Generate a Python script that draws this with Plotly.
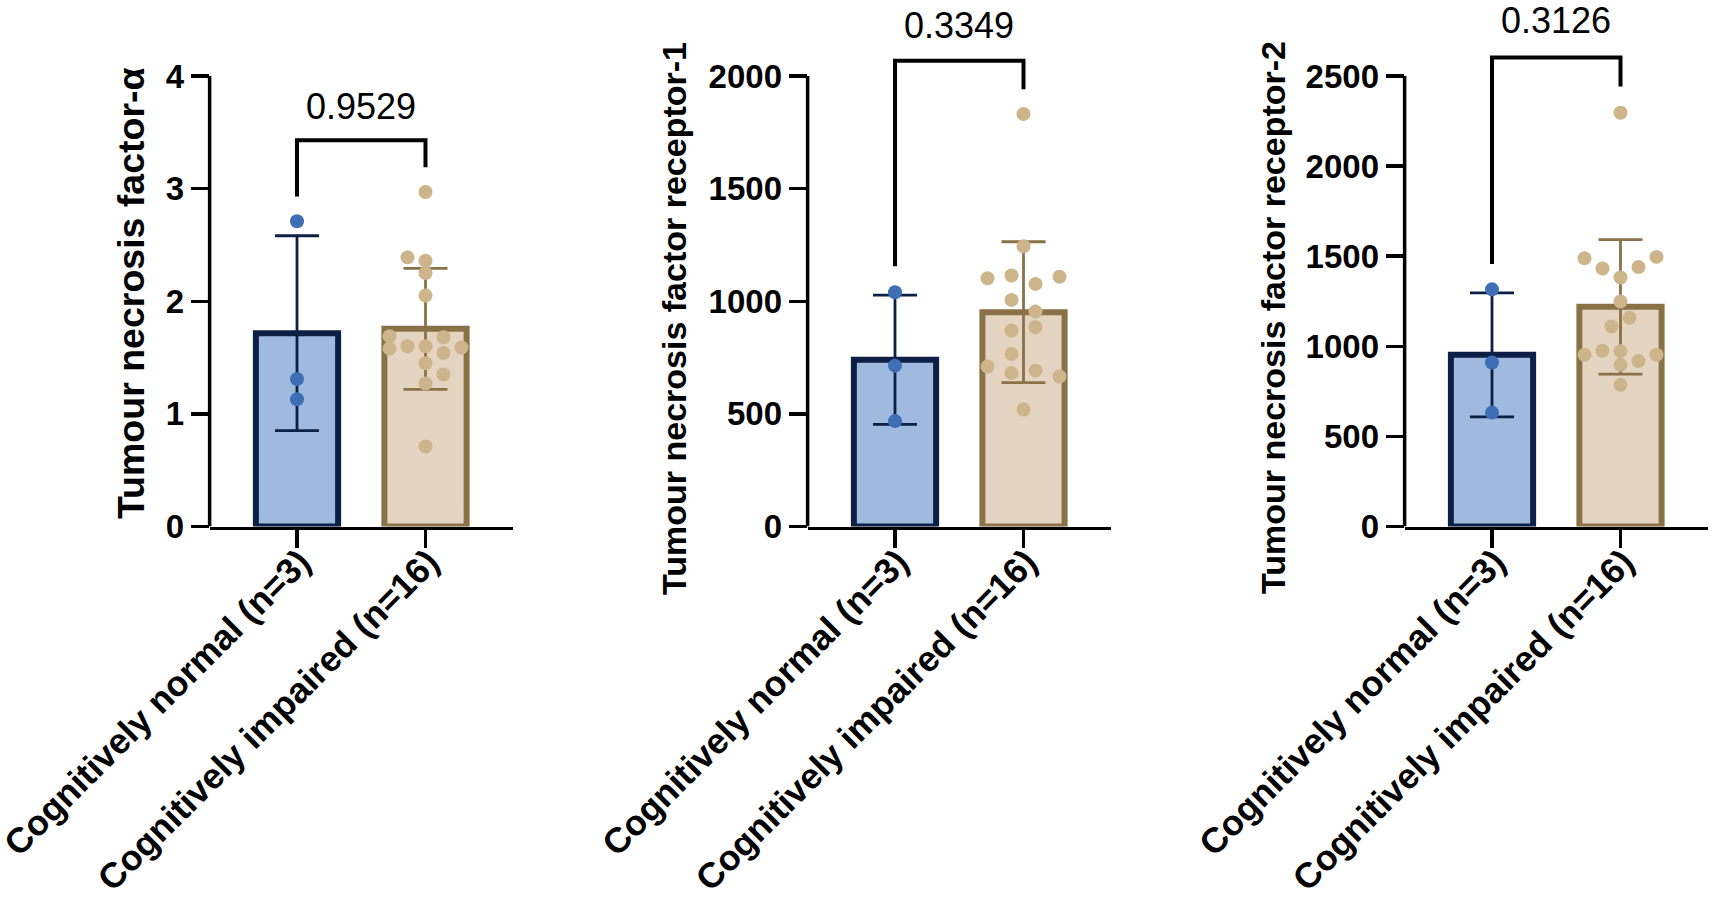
import numpy as np
import plotly.graph_objects as go

# ---------------- data ----------------
groups = ["Cognitively normal (n=3)", "Cognitively impaired (n=16)"]

tnfa_normal = [2.71, 1.31, 1.13]
tnfa_impaired = [2.97, 2.39, 2.36, 2.25, 2.05, 1.69, 1.68, 1.58, 1.60, 1.60,
                 1.54, 1.59, 1.45, 1.35, 1.27, 0.71]

tnfr1_normal = [1040, 714, 468]
tnfr1_impaired = [1831, 1244, 1102, 1114, 1077, 1109, 1006, 954, 885, 870,
                  766, 710, 681, 692, 666, 519]

tnfr2_normal = [1316, 910, 632]
tnfr2_impaired = [2296, 1488, 1496, 1432, 1440, 1382, 1249, 1158, 1110, 953,
                  975, 973, 953, 918, 897, 786]

p_values = ["0.9529", "0.3349", "0.3126"]
y_titles = ["Tumour necrosis factor-α",
            "Tumour necrosis factor receptor-1",
            "Tumour necrosis factor receptor-2"]
y_tick_values = [[0, 1, 2, 3, 4],
                 [0, 500, 1000, 1500, 2000],
                 [0, 500, 1000, 1500, 2000, 2500]]
# bracket: [left leg bottom, bar level, right leg bottom, label level]
bracket_levels = [[2.93, 3.43, 3.19, 3.73],
                  [1155, 2068, 1941, 2225],
                  [1457, 2603, 2442, 2808]]

# ---------------- style / layout (not data) ----------------
# horizontal swarm offsets of the impaired dots, in pixels
jitter_px = [
    [0, -18, 0, 0, 0, -36, 18, -36, -18, 0, 18, 36, 0, 18, 0, 0],
    [0, 0, -36, -12, 12, 36, -12, 12, 12, -12, -12, -36, -12, 12, 36, 0],
    [0, -36, 36, -18, 18, 0, 0, 9, -9, -36, -18, 0, 36, 18, 0, 0],
]
panels = [(tnfa_normal, tnfa_impaired), (tnfr1_normal, tnfr1_impaired),
          (tnfr2_normal, tnfr2_impaired)]

W, H = 1713, 897
PX_PER_CAT = 128.5
normal_center_px = [297, 895, 1492]
XR = [-0.68, 1.68]
zero_px, top_tick_px, plot_top_px = 526.5, 76.0, 10.0
title_x_px = [131, 674, 1273]
title_y_px = [293, 319, 318]
title_size = [37.5, 34, 34]

FILL = ["#A0B9DE", "#E3D5C1"]
EDGE = ["#0C1F44", "#8A7148"]
DOT = ["#3E6EB5", "#CDB48B"]
FONT = "Liberation Sans, Arial, sans-serif"

fig = go.Figure()
shapes, annotations = [], []

for i, (vals_n, vals_i) in enumerate(panels):
    k = "" if i == 0 else str(i + 1)
    xa, ya = "x" + k, "y" + k
    top = y_tick_values[i][-1]
    ymax = top * (zero_px - plot_top_px) / (zero_px - top_tick_px)
    dl = (normal_center_px[i] + XR[0] * PX_PER_CAT) / W
    dr = (normal_center_px[i] + XR[1] * PX_PER_CAT) / W

    for g, vals in enumerate([vals_n, vals_i]):
        arr = np.array(vals, dtype=float)
        fig.add_trace(go.Bar(
            x=[g], y=[arr.mean()], width=0.64, xaxis=xa, yaxis=ya,
            marker=dict(color=FILL[g], line=dict(color=EDGE[g], width=6)),
            error_y=dict(type="data", array=[arr.std(ddof=1)], visible=True,
                         color=EDGE[g], thickness=2.8, width=22),
            hoverinfo="skip"))
    # dots
    fig.add_trace(go.Scatter(
        x=[0] * len(vals_n), y=vals_n, mode="markers", xaxis=xa, yaxis=ya,
        marker=dict(color=DOT[0], size=14, line=dict(width=0)), cliponaxis=False))
    fig.add_trace(go.Scatter(
        x=[1 + j / PX_PER_CAT for j in jitter_px[i]], y=vals_i, mode="markers",
        xaxis=xa, yaxis=ya,
        marker=dict(color=DOT[1], size=14, line=dict(width=0)), cliponaxis=False))
    # significance bracket
    b = bracket_levels[i]
    fig.add_trace(go.Scatter(
        x=[0, 0, 1, 1], y=[b[0], b[1], b[1], b[2]], mode="lines",
        xaxis=xa, yaxis=ya, line=dict(color="black", width=4), hoverinfo="skip"))
    annotations.append(dict(x=0.5, y=b[3], xref=xa, yref=ya, text=p_values[i],
                            showarrow=False, font=dict(size=36, family=FONT, color="black"),
                            xanchor="center", yanchor="middle"))
    # y axis line only up to top tick
    shapes.append(dict(type="line", xref="paper", yref=ya, x0=dl, x1=dl, y0=0, y1=top,
                       line=dict(color="black", width=3.5)))
    # y axis title
    annotations.append(dict(x=title_x_px[i] / W, y=1 - title_y_px[i] / H,
                            xref="paper", yref="paper",
                            text=y_titles[i], textangle=-90, showarrow=False,
                            font=dict(size=title_size[i], family=FONT, color="black",
                                      weight="bold"),
                            xanchor="center", yanchor="middle"))

    fig.layout["xaxis" + k] = dict(
        domain=[dl, dr], range=XR, anchor=ya, tickmode="array", tickvals=[0, 1],
        ticktext=groups, tickangle=-45, ticks="outside", ticklen=18, tickwidth=3.5,
        tickcolor="black", showline=True, linewidth=3.5, linecolor="black",
        showgrid=False, zeroline=False, fixedrange=True, automargin=False,
        ticklabeloverflow="allow", ticklabelstandoff=-21, ticklabelshift=3,
        tickfont=dict(size=35.5, family=FONT, color="black", weight="bold"))
    fig.layout["yaxis" + k] = dict(
        domain=[1 - zero_px / H, 1 - plot_top_px / H], range=[0, ymax], anchor=xa,
        tickmode="array", tickvals=y_tick_values[i], ticks="outside", ticklen=18,
        tickwidth=3.5, tickcolor="black", showline=False, showgrid=False,
        zeroline=False, fixedrange=True, ticklabelstandoff=0, automargin=False,
        ticklabeloverflow="allow",
        tickfont=dict(size=33, family=FONT, color="black", weight="bold"))

fig.update_layout(width=W, height=H, autosize=False,
                  margin=dict(l=0, r=0, t=0, b=0, pad=0),
                  plot_bgcolor="white", paper_bgcolor="white",
                  showlegend=False, barmode="overlay",
                  font=dict(family=FONT, color="black"),
                  shapes=shapes, annotations=annotations)

fig.write_html("out.html",
               config={"displayModeBar": False, "staticPlot": True},
               post_script="document.body.style.margin='0';"
                           "document.body.style.overflow='hidden';")
